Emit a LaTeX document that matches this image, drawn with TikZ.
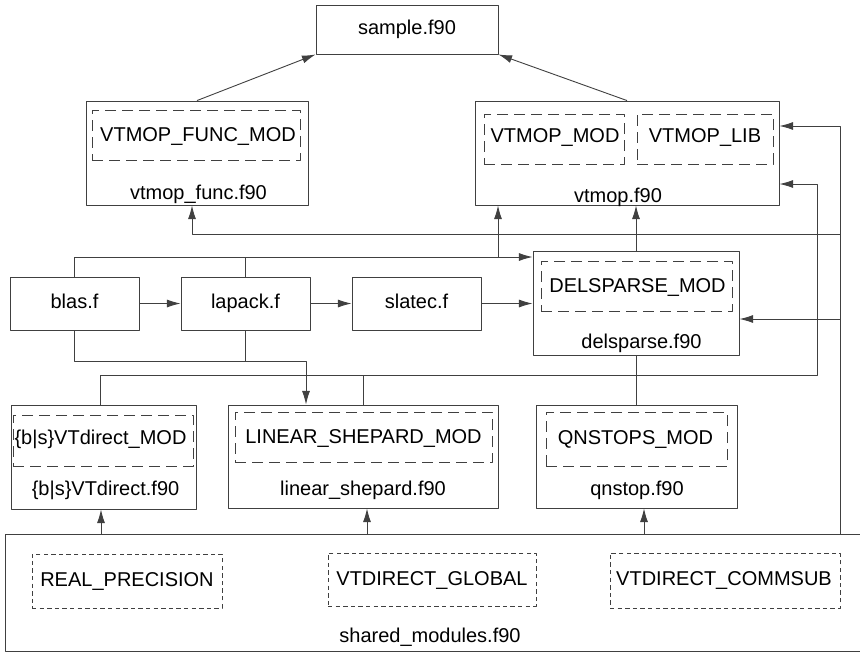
\documentclass[tikz,border=0pt]{standalone}
\usepackage{fontspec}
\setmainfont{Liberation Sans}
\usetikzlibrary{arrows.meta}
\definecolor{linegray}{gray}{0.25}
\tikzset{
	filebox/.style={draw=linegray,line width=0.45pt,inner sep=0pt,text height=7.2pt,text depth=2.1pt},
	modbox/.style={draw=linegray,line width=0.45pt,dash pattern=on 5.5pt off 3pt,inner sep=0pt},
	sharedbox/.style={draw=linegray,line width=0.45pt,dash pattern=on 2.2pt off 1.6pt,inner sep=0pt},
	lbl/.style={anchor=base,inner sep=0pt},
	link/.style={draw=linegray,line width=0.45pt},
}
\begin{document}
\begin{tikzpicture}[x=0.5pt,y=-0.5pt,font=\fontsize{10}{12}\selectfont,line join=round,>={Latex[length=6.8pt,width=4pt]}]
	\useasboundingbox (0,0) rectangle (860,654);
	%%% top: sample.f90
	\node[filebox,minimum width=91pt,minimum height=24.5pt] (sample) at (407,29.5) {sample.f90};
	%%% vtmop_func.f90
	\node[filebox,minimum width=111pt,minimum height=52pt] (vtmopfunc) at (197,153) {};
	\node[modbox,minimum width=104pt,minimum height=25pt] (funcmod) at (196,135) {};
	\node[lbl] (funcmodtxt) at (198,141) {VTMOP\_FUNC\_MOD};
	\node[lbl] (vtmopfunctxt) at (198.5,199.5) {vtmop\_func.f90};
	%%% vtmop.f90
	\node[filebox,minimum width=152pt,minimum height=52pt] (vtmop) at (627,153) {};
	\node[modbox,minimum width=70pt,minimum height=25pt] (vtmopmod) at (554,139) {};
	\node[modbox,minimum width=68pt,minimum height=25pt] (vtmoplib) at (705,139) {};
	\node[lbl] (vtmopmodtxt) at (555,142) {VTMOP\_MOD};
	\node[lbl] (vtmoplibtxt) at (705,142) {VTMOP\_LIB};
	\node[lbl] (vtmoptxt) at (618,202) {vtmop.f90};
	%%% libraries
	\node[filebox,minimum width=64.5pt,minimum height=26.5pt] (blas) at (74.5,303.5) {blas.f};
	\node[filebox,minimum width=64.5pt,minimum height=26.5pt] (lapack) at (245.5,303.5) {lapack.f};
	\node[filebox,minimum width=64.5pt,minimum height=26.5pt] (slatec) at (416.5,303.5) {slatec.f};
	%%% delsparse.f90
	\node[filebox,minimum width=103pt,minimum height=52pt] (delsparse) at (636,303) {};
	\node[modbox,minimum width=95.5pt,minimum height=25pt] (delsparsemod) at (636.5,286) {};
	\node[lbl] (delsparsemodtxt) at (637.5,292) {DELSPARSE\_MOD};
	\node[lbl] (delsparsetxt) at (641.5,348) {delsparse.f90};
	%%% {b|s}VTdirect.f90
	\node[filebox,minimum width=92.5pt,minimum height=52pt] (bvtdirect) at (103.5,457) {};
	\node[modbox,minimum width=90pt,minimum height=25.5pt] (bvtdirectmod) at (103,440.5) {};
	\node[lbl] (bvtdirectmodtxt) at (100.5,444) {\{b|s\}VTdirect\_MOD};
	\node[lbl] (bvtdirecttxt) at (105.5,495) {\{b|s\}VTdirect.f90};
	%%% linear_shepard.f90
	\node[filebox,minimum width=135pt,minimum height=51.5pt] (linshep) at (363,456.5) {};
	\node[modbox,minimum width=128.5pt,minimum height=25pt] (linshepmod) at (363.5,437) {};
	\node[lbl] (linshepmodtxt) at (363.5,443) {LINEAR\_SHEPARD\_MOD};
	\node[lbl] (linsheptxt) at (363,495) {linear\_shepard.f90};
	%%% qnstop.f90
	\node[filebox,minimum width=100.5pt,minimum height=51.5pt] (qnstop) at (636.5,456.5) {};
	\node[modbox,minimum width=90.5pt,minimum height=27pt] (qnstopmod) at (636.5,439) {};
	\node[lbl] (qnstopmodtxt) at (635.5,444) {QNSTOPS\_MOD};
	\node[lbl] (qnstoptxt) at (637,495) {qnstop.f90};
	%%% shared_modules.f90 (runs off the right edge)
	\node[filebox,minimum width=432.5pt,minimum height=58.5pt] (shared) at (437.5,592.5) {};
	\node[sharedbox,minimum width=95pt,minimum height=27pt] (realprec) at (127,581) {};
	\node[sharedbox,minimum width=104pt,minimum height=26.5pt] (vtglobal) at (432,579.5) {};
	\node[sharedbox,minimum width=115pt,minimum height=27.5pt] (vtcommsub) at (725,580.5) {};
	\node[lbl] (realprectxt) at (127,586) {REAL\_PRECISION};
	\node[lbl] (vtglobaltxt) at (432,585) {VTDIRECT\_GLOBAL};
	\node[lbl] (vtcommsubtxt) at (724,585) {VTDIRECT\_COMMSUB};
	\node[lbl] (sharedtxt) at (430,642) {shared\_modules.f90};
	%%% rails and buses
	\coordinate (railR) at (840,126);
	\coordinate (railQ) at (817,184);
	\coordinate (busTop) at (192,234);
	\coordinate (busMid) at (498,257);
	\coordinate (busLow) at (306,361);
	\coordinate (busBot) at (100,375);
	\coordinate (dsIn) at ([yshift=-8pt]delsparse.east);
	%%% connectors
	\draw[link,->] (vtmopfunc.north) -- (sample.south west);
	\draw[link,->] (vtmop.north) -- (sample.south east);
	\draw[link,->] (shared.north -| railR) -- (railR) -- (railR -| vtmop.east);
	\draw[link,->] (busTop -| railR) -- (busTop) -- (busTop |- vtmopfunc.south);
	\draw[link,->] (dsIn -| railR) -- (dsIn);
	\draw[link,->] (blas.north) |- (busMid -| delsparse.west);
	\draw[link] (lapack.north) -- (lapack.north |- busMid);
	\draw[link,->] (busMid) -- (busMid |- vtmop.south);
	\draw[link,->] (blas) -- (lapack);
	\draw[link,->] (lapack) -- (slatec);
	\draw[link,->] (slatec.east) -- (slatec.east -| delsparse.west);
	\draw[link,->] (delsparse.north) -- (delsparse.north |- vtmop.south);
	\draw[link,->] (blas.south) |- (busLow) -- (busLow |- linshep.north);
	\draw[link] (lapack.south) -- (lapack.south |- busLow);
	\draw[link,->] (busBot |- bvtdirect.north) -- (busBot) -| (railQ) -- (railQ -| vtmop.east);
	\draw[link] (linshep.north) -- (linshep.north |- busBot);
	\draw[link] (qnstop.north) -- (qnstop.north |- delsparse.south);
	\foreach \t/\dx in {bvtdirect/-1.25pt,linshep/2pt,qnstop/3.75pt}
	\draw[link,->] ([xshift=\dx]\t.south |- shared.north) -- ([xshift=\dx]\t.south);
\end{tikzpicture}
\end{document}
